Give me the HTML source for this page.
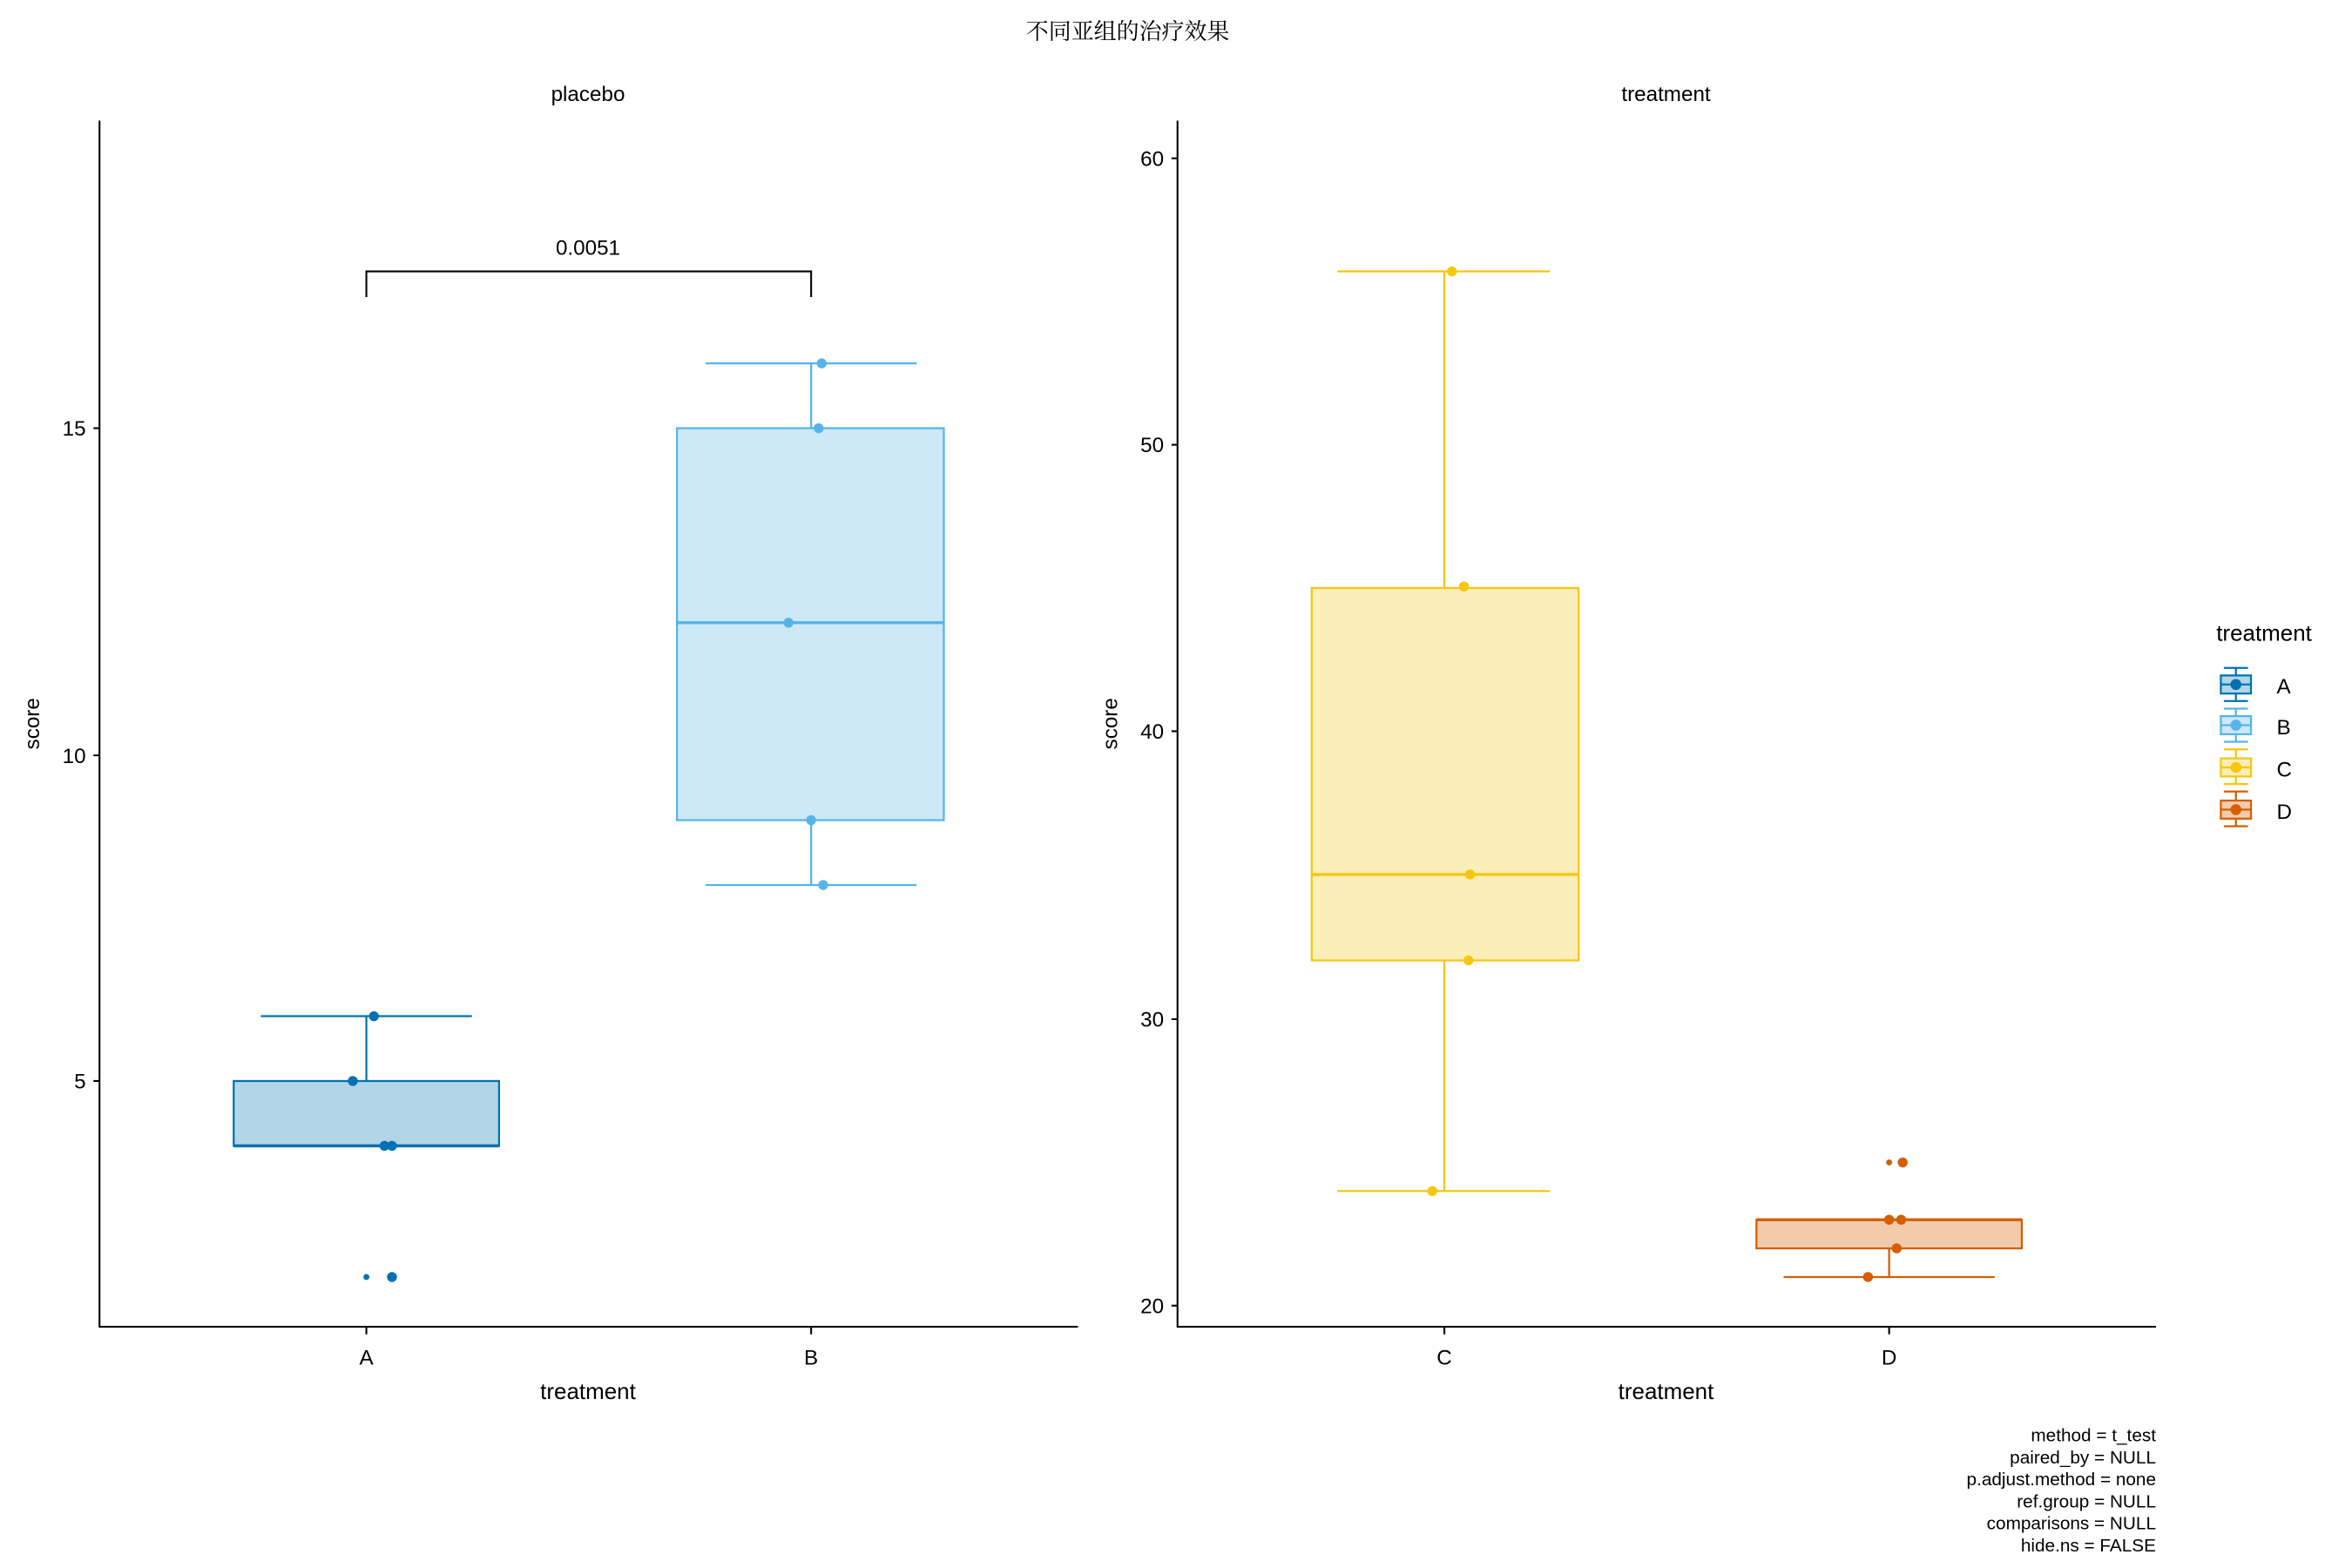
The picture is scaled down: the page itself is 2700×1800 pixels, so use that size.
<!DOCTYPE html>
<html><head><meta charset="utf-8"><style>html,body{margin:0;padding:0;background:#fff}svg{display:block}text{font-family:"Liberation Sans","Noto Sans CJK SC",sans-serif;fill:#000}</style></head>
<body>
<svg width="2700" height="1800" viewBox="0 0 1560 1040" xmlns="http://www.w3.org/2000/svg">
<text x="748" y="26" font-size="15" text-anchor="middle" style="font-family:'Noto Serif CJK SC','Liberation Serif',serif">不同亚组的治疗效果</text>
<text x="390" y="67" font-size="14" text-anchor="middle">placebo</text>
<text x="1105" y="67" font-size="14" text-anchor="middle">treatment</text>
<g stroke="#000" stroke-width="1.2" fill="none">
<path d="M66 80V880H715"/>
<path d="M62 284H66M62 501H66M62 717H66M243 880V885M538 880V885"/>
<path d="M781 80V880H1430"/>
<path d="M777 105H781M777 295H781M777 485H781M777 676H781M777 866H781M958 880V885M1253 880V885"/>
<path d="M243 197V180H538V197"/>
</g>
<g font-size="14" text-anchor="end">
<text x="57" y="289">15</text><text x="57" y="506">10</text><text x="57" y="722">5</text>
<text x="772" y="110">60</text><text x="772" y="300">50</text><text x="772" y="490">40</text><text x="772" y="681">30</text><text x="772" y="871">20</text>
</g>
<g font-size="14" text-anchor="middle">
<text x="243" y="905">A</text><text x="538" y="905">B</text><text x="958" y="905">C</text><text x="1253" y="905">D</text>
<text x="390" y="928" font-size="15">treatment</text><text x="1105" y="928" font-size="15">treatment</text>
<text x="390" y="169">0.0051</text>
<text transform="translate(26,480) rotate(-90)" font-size="14">score</text>
<text transform="translate(741,480) rotate(-90)" font-size="14">score</text>
</g>
<g stroke="#0072B2" stroke-width="1.3">
<path d="M243 717V674M173 674H313"/>
<rect x="155" y="717" width="176" height="43" fill="#b3d5e8"/>
<path d="M155 760H331" stroke-width="2"/>
</g>
<g fill="#0072B2"><circle cx="248" cy="674" r="3.3"/><circle cx="234" cy="717" r="3.3"/><circle cx="255" cy="760" r="3.3"/><circle cx="260" cy="760" r="3.3"/><circle cx="243" cy="847" r="2"/><circle cx="260" cy="847" r="3.3"/></g>
<g stroke="#56B4E9" stroke-width="1.3">
<path d="M538 284V241M468 241H608M538 544V587M468 587H608"/>
<rect x="449" y="284" width="177" height="260" fill="#cde8f6"/>
<path d="M449 413H626" stroke-width="2"/>
</g>
<g fill="#56B4E9"><circle cx="545" cy="241" r="3.3"/><circle cx="543" cy="284" r="3.3"/><circle cx="523" cy="413" r="3.3"/><circle cx="538" cy="544" r="3.3"/><circle cx="546" cy="587" r="3.3"/></g>
<g stroke="#F5C710" stroke-width="1.3">
<path d="M958 390V180M887 180H1028M958 637V790M887 790H1028"/>
<rect x="870" y="390" width="177" height="247" fill="#fbeeb8"/>
<path d="M870 580H1047" stroke-width="2"/>
</g>
<g fill="#F5C710"><circle cx="963" cy="180" r="3.3"/><circle cx="971" cy="389" r="3.3"/><circle cx="975" cy="580" r="3.3"/><circle cx="974" cy="637" r="3.3"/><circle cx="950" cy="790" r="3.3"/></g>
<g stroke="#D55E00" stroke-width="1.3">
<path d="M1253 828V847M1183 847H1323"/>
<rect x="1165" y="809" width="176" height="19" fill="#f2cbad"/>
<path d="M1165 809H1341" stroke-width="2"/>
</g>
<g fill="#D55E00"><circle cx="1253" cy="771" r="2"/><circle cx="1262" cy="771" r="3.3"/><circle cx="1253" cy="809" r="3.3"/><circle cx="1261" cy="809" r="3.3"/><circle cx="1258" cy="828" r="3.3"/><circle cx="1239" cy="847" r="3.3"/></g>
<text x="1470" y="425" font-size="15">treatment</text>
<g stroke-width="1.3">
<g stroke="#0072B2"><path d="M1483 443V448M1475 443H1491M1483 460V465M1475 465H1491"/><rect x="1473" y="448" width="20" height="12" fill="#b3d5e8"/><path d="M1473 454H1493"/><circle cx="1483" cy="454" r="3" fill="#0072B2"/></g>
<g stroke="#56B4E9"><path d="M1483 470V475M1475 470H1491M1483 487V492M1475 492H1491"/><rect x="1473" y="475" width="20" height="12" fill="#cde8f6"/><path d="M1473 481H1493"/><circle cx="1483" cy="481" r="3" fill="#56B4E9"/></g>
<g stroke="#F5C710"><path d="M1483 497V503M1475 497H1491M1483 515V520M1475 520H1491"/><rect x="1473" y="503" width="20" height="12" fill="#fbeeb8"/><path d="M1473 509H1493"/><circle cx="1483" cy="509" r="3" fill="#F5C710"/></g>
<g stroke="#D55E00"><path d="M1483 525V531M1475 525H1491M1483 543V548M1475 548H1491"/><rect x="1473" y="531" width="20" height="12" fill="#f2cbad"/><path d="M1473 537H1493"/><circle cx="1483" cy="537" r="3" fill="#D55E00"/></g>
</g>
<g font-size="14"><text x="1510" y="460">A</text><text x="1510" y="487">B</text><text x="1510" y="515">C</text><text x="1510" y="543">D</text></g>
<g font-size="12" text-anchor="end">
<text x="1430" y="956">method = t_test</text>
<text x="1430" y="970.6">paired_by = NULL</text>
<text x="1430" y="985.2">p.adjust.method = none</text>
<text x="1430" y="999.8">ref.group = NULL</text>
<text x="1430" y="1014.4">comparisons = NULL</text>
<text x="1430" y="1029">hide.ns = FALSE</text>
</g>
</svg>
</body></html>
